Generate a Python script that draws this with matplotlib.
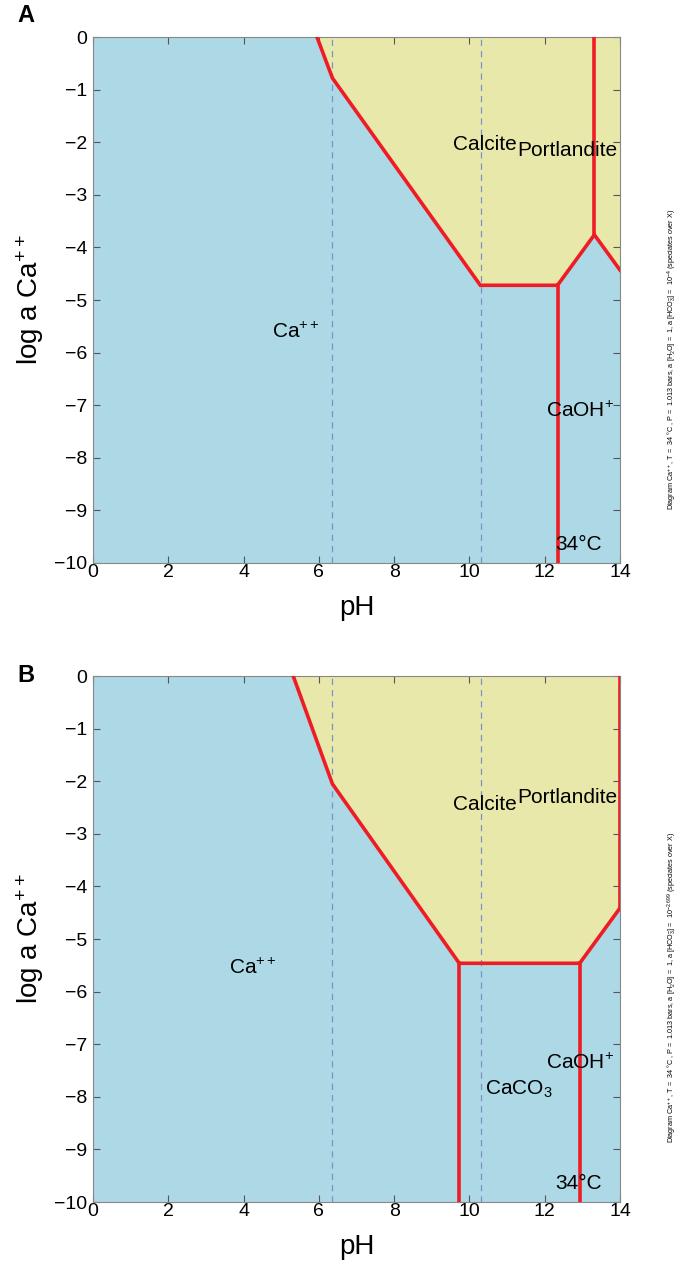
import numpy as np
import matplotlib
matplotlib.use("Agg")
import matplotlib.pyplot as plt

plt.rcParams['font.family'] = ['Liberation Sans', 'DejaVu Sans']
plt.rcParams['mathtext.fontset'] = 'custom'
plt.rcParams['mathtext.rm'] = 'Liberation Sans'
plt.rcParams['mathtext.it'] = 'Liberation Sans:italic'
plt.rcParams['mathtext.bf'] = 'Liberation Sans:bold'

blue = '#add8e6'
yellow = '#e9e8ab'
red = '#ee1c24'

# dashed lines at carbonate pKa values
pka = [6.36, 10.30]

# panel A: boundary of the mineral field (pH, log a Ca++)
a_bound_ph = [5.95, 6.36, 10.29, 12.34, 13.32, 14.0]
a_bound_log = [0.0, -0.78, -4.72, -4.72, -3.76, -4.43]
# extra lines in A
a_vert1_ph = [12.34, 12.34]
a_vert1_log = [-4.72, -10.0]
a_vert2_ph = [13.32, 13.32]
a_vert2_log = [-3.76, 0.0]

# panel B
b_bound_ph = [5.32, 6.36, 9.73, 12.93, 14.0]
b_bound_log = [0.0, -2.05, -5.46, -5.46, -4.41]
b_vert1_ph = [9.73, 9.73]
b_vert1_log = [-5.46, -10.0]
b_vert2_ph = [12.93, 12.93]
b_vert2_log = [-5.46, -10.0]
b_vert3_ph = [14.0, 14.0]
b_vert3_log = [-4.41, 0.0]

a_labels = [('Calcite', 10.4, -2.05), ('Portlandite', 12.6, -2.15),
            ('Ca$^{++}$', 5.4, -5.6), ('CaOH$^{+}$', 12.95, -7.1),
            ('34°C', 12.9, -9.65)]
b_labels = [('Calcite', 10.4, -2.45), ('Portlandite', 12.6, -2.3),
            ('Ca$^{++}$', 4.25, -5.55), ('CaCO$_3$', 11.3, -7.85),
            ('CaOH$^{+}$', 12.95, -7.35), ('34°C', 12.9, -9.65)]

notes = [r'Diagram Ca$^{++}$, T =  34 °C , P =  1.013 bars, a [H$_2$O] =  1, a [HCO$_3^{-}$] =  10$^{-4}$ (speciates over X)',
         r'Diagram Ca$^{++}$, T =  34 °C , P =  1.013 bars, a [H$_2$O] =  1, a [HCO$_3^{-}$] =  10$^{-2.699}$ (speciates over X)']

fig = plt.figure(figsize=(6.81, 12.64), dpi=100)
axA = fig.add_axes([0.1366, 0.5546, 0.7738, 0.4161])
axB = fig.add_axes([0.1366, 0.0490, 0.7738, 0.4161])


def draw(ax, bph, blog, verts, labels):
    ax.set_facecolor(blue)
    poly_x = list(bph) + [14.0]
    poly_y = list(blog) + [0.0]
    ax.fill(poly_x, poly_y, color=yellow, lw=0, zorder=1)
    for p in pka:
        ax.plot([p, p], [-10, 0], ls=(0, (5, 4)), color='#7b93c4', lw=0.9, zorder=2)
    ax.plot(bph, blog, color=red, lw=2.6, zorder=3, solid_joinstyle='miter')
    for vx, vy in verts:
        ax.plot(vx, vy, color=red, lw=2.6, zorder=3)
    for txt, x, y in labels:
        ax.text(x, y, txt, ha='center', va='center', fontsize=15, zorder=4)
    ax.set_xlim(0, 14)
    ax.set_ylim(-10, 0)
    ax.set_xticks(np.arange(0, 15, 2))
    ax.set_yticks(np.arange(-10, 1, 1))
    ax.tick_params(direction='in', top=True, right=True, labelsize=14,
                   length=5, color='#555555')
    ax.tick_params(axis='x', pad=1)
    ax.tick_params(axis='y', pad=4)
    for s in ax.spines.values():
        s.set_color('#888888')
    ax.set_xlabel('pH', fontsize=20, labelpad=10)
    ax.set_ylabel('log a Ca$^{++}$', fontsize=20, labelpad=6)


draw(axA, a_bound_ph, a_bound_log,
     [(a_vert1_ph, a_vert1_log), (a_vert2_ph, a_vert2_log)], a_labels)
draw(axB, b_bound_ph, b_bound_log,
     [(b_vert1_ph, b_vert1_log), (b_vert2_ph, b_vert2_log), (b_vert3_ph, b_vert3_log)],
     b_labels)

fig.text(0.026, 1 - 15.5 / 1264, 'A', fontsize=17, fontweight='bold', va='center')
fig.text(0.026, 1 - 676 / 1264, 'B', fontsize=17, fontweight='bold', va='center')

fig.text(0.987, 1 - 510 / 1264, notes[0], rotation=90, ha='center', va='bottom', fontsize=5.2)
fig.text(0.987, 1 - 1143 / 1264, notes[1], rotation=90, ha='center', va='bottom', fontsize=5.2)

fig.savefig('out.png', dpi=100)
